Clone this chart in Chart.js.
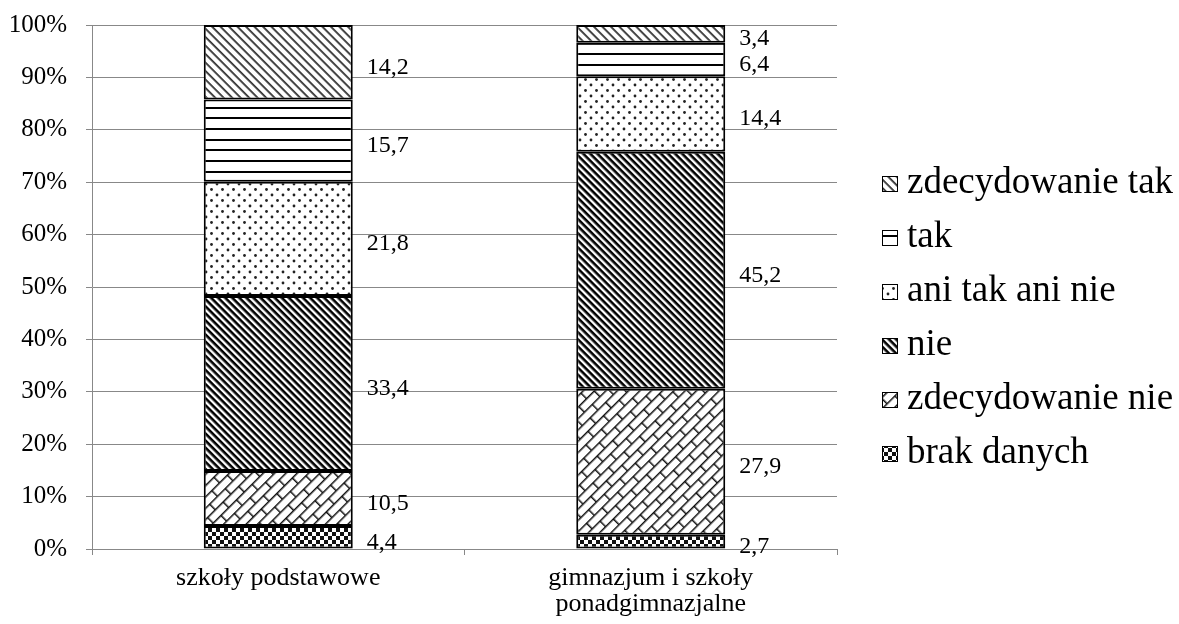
<!DOCTYPE html>
<html>
<head>
<meta charset="utf-8">
<script src="https://cdn.jsdelivr.net/npm/chart.js@4/dist/chart.umd.min.js"></script>
<style>
  html, body { margin: 0; padding: 0; background: #fff; }
  #wrap { width: 1179px; height: 624px; position: relative; }
</style>
</head>
<body>
<div id="wrap"><canvas id="c" width="1179" height="624"></canvas></div>
<script>
// ---- data ----
const categories = ['szkoły podstawowe', ['gimnazjum i szkoły', 'ponadgimnazjalne']];
const seriesNames = ['brak danych', 'zdecydowanie nie', 'nie', 'ani tak ani nie', 'tak', 'zdecydowanie tak'];
const brakDanych = [4.4, 2.7];
const zdecydowanieNie = [10.5, 27.9];
const nie = [33.4, 45.2];
const aniTakAniNie = [21.8, 14.4];
const tak = [15.7, 6.4];
const zdecydowanieTak = [14.2, 3.4];
const yTicks = [0, 10, 20, 30, 40, 50, 60, 70, 80, 90, 100];

const FONT = "'Liberation Serif', 'Times New Roman', serif";
const canvas = document.getElementById('c');
const ctx = canvas.getContext('2d');

function tile(w, h, draw) {
  const c = document.createElement('canvas');
  c.width = w; c.height = h;
  const g = c.getContext('2d');
  g.fillStyle = '#fff';
  g.fillRect(0, 0, w, h);
  g.fillStyle = '#000';
  draw(g);
  return c;
}
function pat(c, rot) {
  const p = ctx.createPattern(c, 'repeat');
  if (rot) p.setTransform(new DOMMatrix().rotate(rot));
  return p;
}

const patterns = {
  'brak danych': pat(tile(8, 8, g => {
    g.fillStyle = '#111';
    g.fillRect(0, 0, 4, 4); g.fillRect(4, 4, 4, 4);
  })),
  'zdecydowanie nie': pat(tile(22, 16, g => {
    g.fillStyle = '#111';
    g.fillRect(0, 0, 22, 1.5); g.fillRect(0, 8, 22, 1.5);
    g.fillRect(0, 0, 1.5, 8); g.fillRect(11, 8, 1.5, 8);
  }), -45),
  'nie': pat(tile(10, 5, g => {
    g.fillRect(0, 0, 10, 2.6);
  }), 45),
  'ani tak ani nie': pat(tile(11, 11, g => {
    g.fillStyle = '#222';
    g.beginPath(); g.arc(2.5, 2.5, 1.4, 0, Math.PI * 2); g.fill();
    g.beginPath(); g.arc(8, 8, 1.4, 0, Math.PI * 2); g.fill();
  })),
  'tak': pat(tile(10, 32, g => {
    g.fillRect(0, 0, 10, 2); g.fillRect(0, 11, 10, 2); g.fillRect(0, 21, 10, 2);
  })),
  'zdecydowanie tak': pat(tile(10, 6, g => {
    g.fillStyle = '#333';
    g.fillRect(0, 0, 10, 1.8);
  }), 45)
};

const seriesValues = [brakDanych, zdecydowanieNie, nie, aniTakAniNie, tak, zdecydowanieTak];
const datasets = seriesNames.map((name, i) => ({
  label: name,
  data: seriesValues[i],
  backgroundColor: patterns[name],
  borderColor: '#000',
  borderWidth: 2,
  borderSkipped: false
}));

const GRID = '#888888';

const dataLabels = {
  id: 'dataLabels',
  afterDatasetsDraw(chart) {
    const c = chart.ctx;
    c.save();
    c.font = '24px ' + FONT;
    c.fillStyle = '#000';
    c.textAlign = 'left';
    c.textBaseline = 'middle';
    chart.data.datasets.forEach((ds, di) => {
      const meta = chart.getDatasetMeta(di);
      meta.data.forEach((bar, i) => {
        const v = ds.data[i];
        const x = bar.x + bar.width / 2 + 14;
        const y = (bar.y + bar.base) / 2 + 5;
        c.fillText(String(v).replace('.', ','), x, y);
      });
    });
    c.restore();
  }
};

const customLegend = {
  id: 'customLegend',
  afterDraw(chart) {
    const c = chart.ctx;
    const items = chart.data.datasets.slice().reverse();
    const spacing = 54;
    const cy = chart.height / 2 + 6;
    const boxX = chart.chartArea.right + 45;
    c.save();
    c.font = '37px ' + FONT;
    c.textAlign = 'left';
    c.textBaseline = 'alphabetic';
    items.forEach((ds, i) => {
      const y = cy + (i - (items.length - 1) / 2) * spacing;
      c.fillStyle = ds.backgroundColor;
      c.fillRect(boxX, y - 7, 16, 16);
      c.strokeStyle = '#000';
      c.lineWidth = 1;
      c.strokeRect(boxX + 0.5, y - 6.5, 15, 15);
      c.fillStyle = '#000';
      c.fillText(ds.label, boxX + 25, y + 10);
    });
    c.restore();
  }
};

new Chart(ctx, {
  type: 'bar',
  data: { labels: categories, datasets },
  options: {
    responsive: false,
    animation: false,
    layout: { padding: { left: 0, right: 342, top: 25, bottom: 0 } },
    plugins: { legend: { display: false }, tooltip: { enabled: false } },
    datasets: { bar: { categoryPercentage: 1, barPercentage: 0.4 } },
    scales: {
      x: {
        stacked: true,
        afterFit(s) { s.height = 75; s.paddingLeft = 0; s.paddingRight = 0; },
        grid: { offset: true, drawOnChartArea: false, color: GRID, tickLength: 6, lineWidth: 1 },
        border: { color: GRID, width: 1 },
        ticks: { color: '#000', font: { family: FONT, size: 26, lineHeight: 1.0 }, padding: 10, maxRotation: 0, autoSkip: false }
      },
      y: {
        stacked: true,
        min: 0, max: 100,
        afterFit(s) { s.width = 92; s.paddingTop = 0; s.paddingBottom = 0; },
        afterBuildTicks(s) { s.ticks = yTicks.map(v => ({ value: v })); },
        grid: { color: GRID, tickLength: 6, lineWidth: 1 },
        border: { color: GRID, width: 1 },
        ticks: { color: '#000', font: { family: FONT, size: 25 }, padding: 19, callback: v => v + '%' }
      }
    }
  },
  plugins: [dataLabels, customLegend]
});
</script>
</body>
</html>
